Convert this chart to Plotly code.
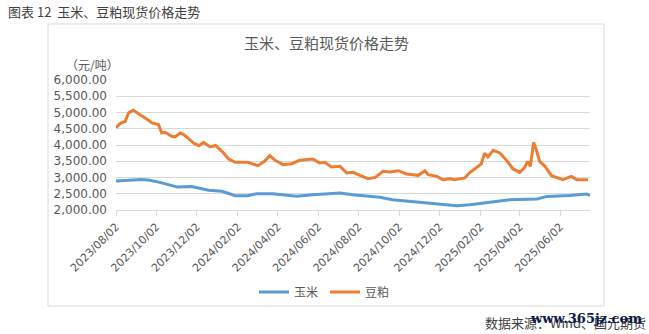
import plotly.graph_objects as go

# ---- data ----
soy_dates = ["2023-08-02","2023-08-08","2023-08-16","2023-08-21","2023-08-28","2023-09-05","2023-09-12",
             "2023-09-20","2023-09-25","2023-10-05","2023-10-10","2023-10-15","2023-10-25","2023-10-30",
             "2023-11-07","2023-11-12","2023-11-20","2023-11-27","2023-12-05","2023-12-12","2023-12-22",
             "2023-12-30","2024-01-09","2024-01-19","2024-01-29","2024-02-17","2024-03-03","2024-03-13",
             "2024-03-21","2024-03-29","2024-04-10","2024-04-23","2024-05-05","2024-05-25","2024-06-04",
             "2024-06-12","2024-06-22","2024-07-05","2024-07-15","2024-07-25","2024-08-04","2024-08-09",
             "2024-08-16","2024-08-27","2024-09-08","2024-09-18","2024-10-01","2024-10-13","2024-10-31",
             "2024-11-10","2024-11-15","2024-11-28","2024-12-07","2024-12-18","2024-12-25","2025-01-09",
             "2025-01-17","2025-01-27","2025-02-03","2025-02-08","2025-02-13","2025-02-21","2025-03-03",
             "2025-03-13","2025-03-23","2025-04-02","2025-04-09","2025-04-14","2025-04-18","2025-04-23",
             "2025-04-27","2025-05-02","2025-05-10","2025-05-20","2025-05-30","2025-06-06","2025-06-19",
             "2025-06-27","2025-07-14"]
soy_values = [4530,4660,4730,4990,5070,4970,4860,
              4760,4680,4630,4370,4390,4270,4250,
              4370,4320,4190,4060,3980,4080,3940,
              3990,3805,3570,3466,3466,3364,3497,
              3672,3528,3395,3426,3528,3571,3447,
              3466,3324,3343,3140,3158,3066,3016,
              2964,3004,3189,3170,3210,3109,3066,
              3210,3087,3035,2933,2964,2933,2986,
              3160,3310,3420,3750,3632,3836,3756,
              3528,3263,3158,3294,3497,3343,4082,
              3857,3497,3343,3056,2986,2933,3035,
              2933,2933]

corn_dates = ["2023-08-02","2023-08-19","2023-09-10","2023-09-22","2023-10-07","2023-11-03","2023-11-24",
              "2023-12-11","2023-12-20","2024-01-09","2024-01-29","2024-02-16","2024-03-01","2024-03-25",
              "2024-04-10","2024-05-01","2024-05-25","2024-06-15","2024-07-05","2024-07-24","2024-08-14",
              "2024-09-03","2024-09-22","2024-10-23","2024-11-22","2024-12-28","2025-01-17","2025-02-16",
              "2025-03-18","2025-04-28","2025-05-13","2025-06-16","2025-07-12","2025-07-17"]
corn_values = [2890,2915,2935,2915,2850,2705,2725,
               2645,2605,2575,2440,2440,2500,2500,
               2470,2420,2470,2490,2525,2470,2420,
               2395,2317,2265,2215,2132,2163,2234,
               2317,2339,2419,2450,2490,2450]

tick_dates = ["2023-08-02","2023-10-02","2023-12-02","2024-02-02","2024-04-02","2024-06-02",
              "2024-08-02","2024-10-02","2024-12-02","2025-02-02","2025-04-02","2025-06-02"]
tick_labels = [d.replace("-", "/") for d in tick_dates]
y_ticks = [2000, 2500, 3000, 3500, 4000, 4500, 5000, 5500, 6000]

# ---- layout geometry (pixels) ----
W, H = 649, 334
L, R, T, B = 116, 59, 80, 124
PW, PH = W - L - R, H - T - B

def px(x):
    return (x - L) / PW

def py(y):
    return (H - B - y) / PH

GRID = "#d9d9d9"
TXT = "#595959"

fig = go.Figure()
fig.add_trace(go.Scatter(x=corn_dates, y=corn_values, mode="lines", name="玉米",
                         line=dict(color="#5b9bd5", width=3)))
fig.add_trace(go.Scatter(x=soy_dates, y=soy_values, mode="lines", name="豆粕",
                         line=dict(color="#ed7d31", width=3)))

fig.update_layout(
    width=W, height=H,
    margin=dict(l=L, r=R, t=T, b=B),
    paper_bgcolor="white", plot_bgcolor="white",
    font=dict(family="Noto Sans CJK SC", color=TXT, size=12),
    showlegend=True,
    legend=dict(orientation="h", x=px(325), xanchor="center", y=py(292), yanchor="middle",
                font=dict(size=12, color=TXT, family="Noto Sans CJK SC"),
                bgcolor="rgba(0,0,0,0)", itemwidth=30, tracegroupgap=0,
                entrywidth=26, entrywidthmode="pixels"),
    xaxis=dict(type="date", range=["2023-08-02", "2025-07-17"],
               tickvals=tick_dates, ticktext=tick_labels, tickangle=-45,
               tickfont=dict(family="DejaVu Sans", size=11, color=TXT),
               showgrid=False, showline=True, linecolor=GRID, linewidth=1,
               ticks="outside", ticklen=5, tickcolor=GRID, zeroline=False),
    yaxis=dict(range=[2000, 6000], tickvals=y_ticks, tickformat=",.2f",
               tickfont=dict(family="DejaVu Sans", size=12, color=TXT),
               showgrid=True, gridcolor=GRID, gridwidth=1, zeroline=False,
               showline=False, ticks="", ticklabelstandoff=8),
)

# chart frame
fig.add_shape(type="rect", xref="paper", yref="paper",
              x0=px(48), x1=px(604), y0=py(306), y1=py(24),
              line=dict(color=GRID, width=1), fillcolor="rgba(0,0,0,0)", layer="below")

ann = [
    dict(text="图表 12  玉米、豆粕现货价格走势", x=px(6), y=py(11), xanchor="left", yanchor="middle",
         font=dict(size=13, color="#404040")),
    dict(text="玉米、豆粕现货价格走势", x=px(326), y=py(43), xanchor="center", yanchor="middle",
         font=dict(size=15, color=TXT)),
    dict(text="（元/吨）", x=px(64), y=py(64.5), xanchor="left", yanchor="middle",
         font=dict(size=12, color=TXT)),
    dict(text="数据来源：Wind、国元期货", x=px(648), y=py(322), xanchor="right", yanchor="middle",
         font=dict(size=13, color="#404040")),
    dict(text="<b>www.365jz.com</b>", x=px(586), y=py(318), xanchor="center", yanchor="middle",
         font=dict(size=13, color="#0d1b4b", family="DejaVu Serif")),
]
for a in ann:
    fig.add_annotation(xref="paper", yref="paper", showarrow=False, **a)

fig.write_html("out.html")
